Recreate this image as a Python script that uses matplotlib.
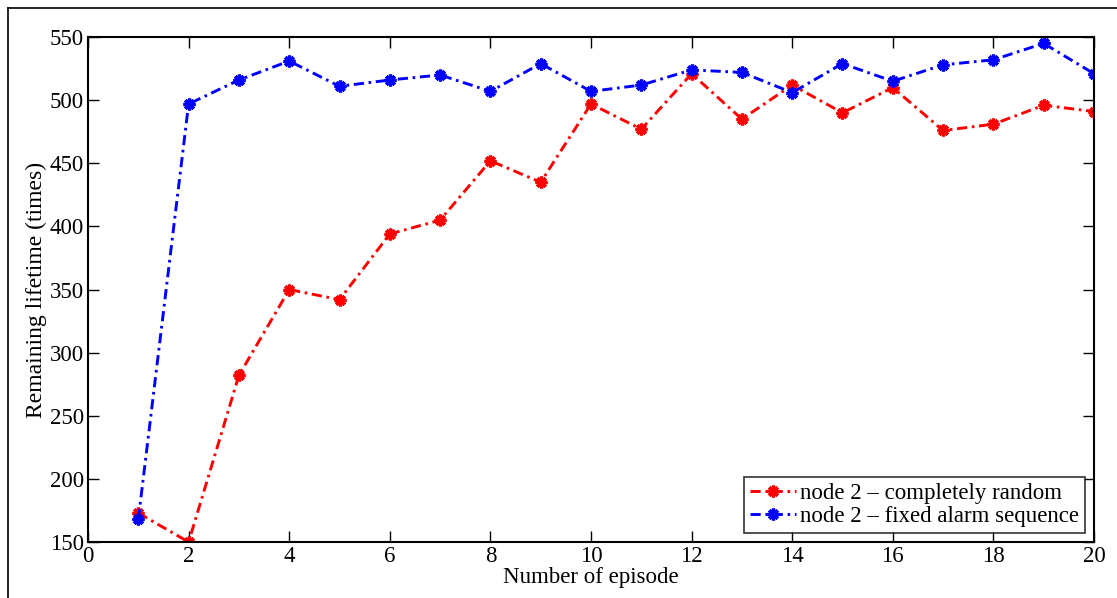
import matplotlib
matplotlib.use("Agg")
import matplotlib.pyplot as plt
from matplotlib.lines import Line2D

episodes = list(range(1, 21))
random_lifetime = [173, 150, 282, 350, 342, 394, 405, 452, 435, 497,
                   477, 521, 485, 512, 490, 510, 476, 481, 496, 491]
fixed_lifetime = [168, 497, 516, 531, 511, 516, 520, 507, 529, 507,
                  512, 524, 522, 506, 529, 515, 528, 532, 545, 521]
series_labels = ["node 2 \u2013 completely random",
                 "node 2 \u2013 fixed alarm sequence"]

plt.rcParams["font.family"] = ["Liberation Serif", "DejaVu Serif"]

fig = plt.figure(figsize=(11.17, 5.98), dpi=100)
ax = fig.add_axes([0.0788, 0.0936, 0.9006, 0.8444])

dashdot = (0, (3.5, 1.6, 0.9, 1.6))
asterisk = (8, 2, 0)
ax.plot(episodes, random_lifetime, color="red", linestyle=dashdot, linewidth=2.1,
        marker=asterisk, markersize=8.5, markeredgewidth=2.4, label=series_labels[0])
ax.plot(episodes, fixed_lifetime, color="blue", linestyle=dashdot, linewidth=2.1,
        marker=asterisk, markersize=8.5, markeredgewidth=2.4, label=series_labels[1])

ax.set_xlim(0, 20)
ax.set_ylim(150, 550)
ax.set_xticks(range(0, 21, 2))
ax.set_yticks(range(150, 551, 50))
ax.tick_params(direction="in", length=8, width=1, labelsize=16.5,
               top=True, right=True, pad=3)
for side in ax.spines.values():
    side.set_linewidth(1.5)

ax.set_xlabel("Number of episode", fontsize=16.5, labelpad=0)
ax.set_ylabel("Remaining lifetime (times)", fontsize=17, labelpad=2)

leg = ax.legend(loc="lower right", fontsize=16.5, frameon=True, fancybox=False,
                handlelength=2.0, handletextpad=0.2, borderpad=0.25,
                labelspacing=0.1, borderaxespad=0.4)
leg.get_frame().set_edgecolor("black")
leg.get_frame().set_linewidth(1.2)

# page frame around the plot
fig.add_artist(Line2D([8 / 1117, 8 / 1117], [0, 590 / 598],
                      transform=fig.transFigure, color="black", linewidth=1.2))
fig.add_artist(Line2D([8 / 1117, 1], [590 / 598, 590 / 598],
                      transform=fig.transFigure, color="black", linewidth=1.2))

fig.savefig("out.png", dpi=100)
